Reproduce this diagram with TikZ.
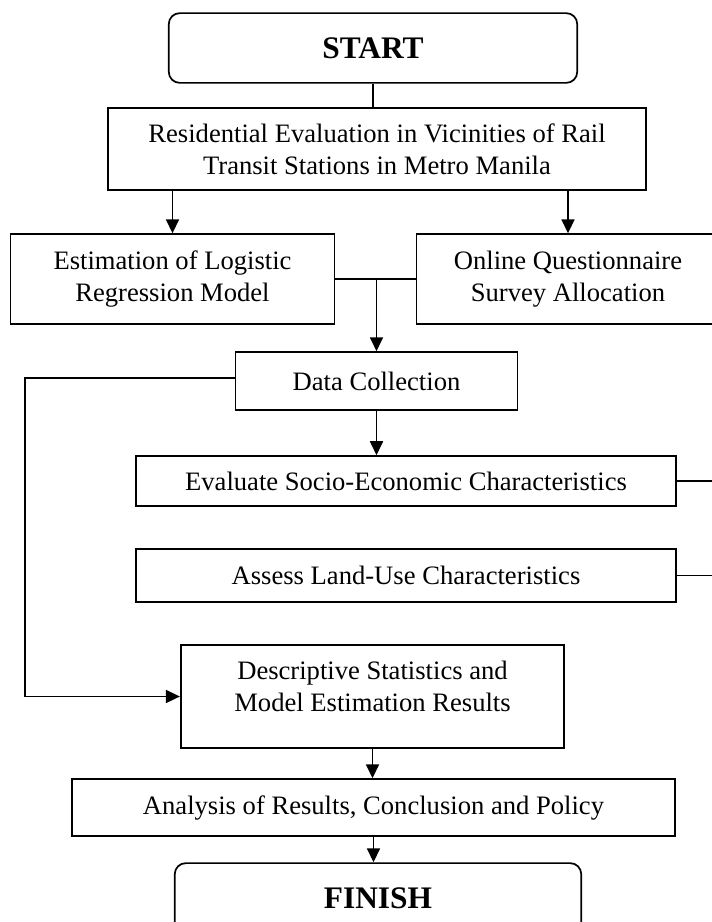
\documentclass[tikz,border=0pt]{standalone}
\usepackage{fontspec}
\setmainfont{Liberation Serif}
\usetikzlibrary{arrows.meta}

\begin{document}
\begin{tikzpicture}[x = 1bp, y = -1bp, line width = 1.7bp,
  box/.style = {draw, align = center, inner sep = 0pt,
    font = \fontsize{26.7}{32}\selectfont},
  endbox/.style = {box, rounded corners = 11bp,
    font = \fontsize{31.5}{36}\selectfont\bfseries},
  arr/.style = {-{Triangle[length = 14bp, width = 13bp]}}]
%\draw [help lines, step = 50] (0, 0) grid (712, 922);
\useasboundingbox (0, 0) rectangle (712, 922);
\node [endbox, minimum width = 410, minimum height = 70] (start) at (373, 48) {START};
\node [box, minimum width = 540, minimum height = 82] (resid) at (377, 149)
  {Residential Evaluation in Vicinities of Rail\\Transit Stations in Metro Manila};
\node [box, minimum width = 325, minimum height = 90] (estim) at (172.5, 279)
  {Estimation of Logistic\\Regression Model};
\node [box, minimum width = 304, minimum height = 90] (online) at (568, 279)
  {Online Questionnaire\\Survey Allocation};
\node [box, minimum width = 283, minimum height = 58] (data) at (376.5, 381) {Data Collection};
\node [box, minimum width = 542, minimum height = 50] (socio) at (406, 481)
  {Evaluate Socio-Economic Characteristics};
\node [box, minimum width = 542, minimum height = 53] (land) at (406, 575.5)
  {Assess Land-Use Characteristics};
\node [box, minimum width = 385, minimum height = 103] (descr) at (372.5, 696.5)
  {Descriptive Statistics and\\Model Estimation Results\\[-12bp]\mbox{}};
\node [box, minimum width = 605, minimum height = 57] (analys) at (373.5, 807.5)
  {Analysis of Results, Conclusion and Policy};
\node [endbox, minimum width = 408, minimum height = 70] (finish) at (378, 898) {FINISH};
% free ends
\coordinate (lft) at (25, 378);
\coordinate (rtsocio) at (712, 481);
\coordinate (rtland) at (712, 575.5);
% connectors
\draw (start.south) -- (start.south |- resid.north);
\draw [arr] (estim.north |- resid.south) -- (estim.north);
\draw [arr] (online.north |- resid.south) -- (online.north);
\draw (estim.east) -- (online.west);
\draw [arr] (data.north |- estim.east) -- (data.north);
\draw [arr] (data.west |- lft) -- (lft) |- (descr.west);
\draw [arr] (data.south) -- (data.south |- socio.north);
\draw (socio.east) -- (rtsocio);
\draw (land.east) -- (rtland);
\draw [arr] (descr.south) -- (descr.south |- analys.north);
\draw [arr] (analys.south) -- (analys.south |- finish.north);
\end{tikzpicture}
\end{document}
